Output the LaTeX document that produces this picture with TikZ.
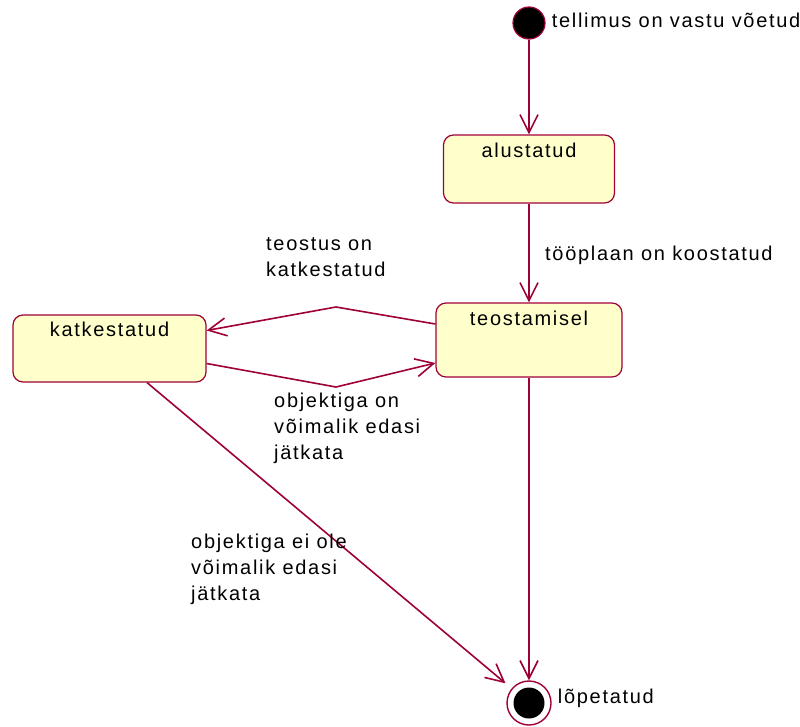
\documentclass[tikz,border=0pt]{standalone}
\usepackage{fontspec}
\setmainfont{Liberation Sans}[LetterSpace=8.5]
\usetikzlibrary{positioning, arrows.meta}
\definecolor{umlred}{RGB}{158,0,56}
\definecolor{umlfill}{RGB}{255,255,204}

\begin{document}
\begin{tikzpicture}[
    x=1pt, y=-1pt,
    stbox/.style={draw=umlred, fill=umlfill, line width=1.2pt, rounded corners=10pt, inner sep=0pt},
    lbl/.style={font=\fontsize{20}{26}\selectfont, inner sep=0pt, align=left},
    trans/.style={draw=umlred, line width=1.6pt, -{Straight Barb[length=18pt, width=18pt]}},
    startdot/.style={circle, draw=umlred, fill=black, line width=1.2pt, minimum size=32pt, inner sep=0pt},
    endring/.style={circle, draw=umlred, fill=white, line width=1.4pt, minimum size=44pt, inner sep=0pt},
    enddot/.style={circle, fill=black, minimum size=31pt, inner sep=0pt}
  ]

  \useasboundingbox (0,0) rectangle (800,726);

  \node[startdot] (start) at (529,23) {};
  \node[lbl, anchor=base west] (starttxt) at ([xshift=6pt, yshift=-4pt]start.east) {tellimus on vastu võetud};

  \node[stbox, minimum width=171pt, minimum height=68pt] (alust) at (529,169) {};
  \node[lbl, below=8pt of alust.north] (alusttxt) {alustatud};

  \node[stbox, minimum width=186pt, minimum height=74pt] (teost) at (529,340) {};
  \node[lbl, below=8pt of teost.north] (teosttxt) {teostamisel};

  \node[stbox, minimum width=193pt, minimum height=67pt] (katk) at (109.5,348.5) {};
  \node[lbl, below=7pt of katk.north] (katktxt) {katkestatud};

  \node[endring] (final) at (529,703) {};
  \node[enddot] (finaldot) at (final) {};
  \node[lbl, anchor=base west] (finaltxt) at ([xshift=6pt]final.east) {lõpetatud};

  \coordinate (topbend) at (336,307);
  \coordinate (lowbend) at (336,387);

  \draw[trans] (start) -- (alust);
  \draw[trans] (alust) -- (teost);
  \draw[trans] (teost) -- (final);
  \draw[trans] ([yshift=16pt]teost.west) -- (topbend) -- ([yshift=18pt]katk.east);
  \draw[trans] ([yshift=-15pt]katk.east) -- (lowbend) -- ([yshift=-23pt]teost.west);
  \draw[trans, shorten >=8pt] ([xshift=37.5pt]katk.south) -- (final);

  % transition labels
  \node[lbl, anchor=base west] (plantxt) at (545,260) {tööplaan on koostatud};
  \node[lbl, anchor=north west] (stoptxt) at (266,237.5) {teostus on\\katkestatud};
  \node[lbl, anchor=north west] (gotxt) at (274,392.5) {objektiga on\\võimalik edasi\\jätkata};
  \node[lbl, anchor=north west] (endtxt) at (191,533.5) {objektiga ei ole\\võimalik edasi\\jätkata};

\end{tikzpicture}
\end{document}
